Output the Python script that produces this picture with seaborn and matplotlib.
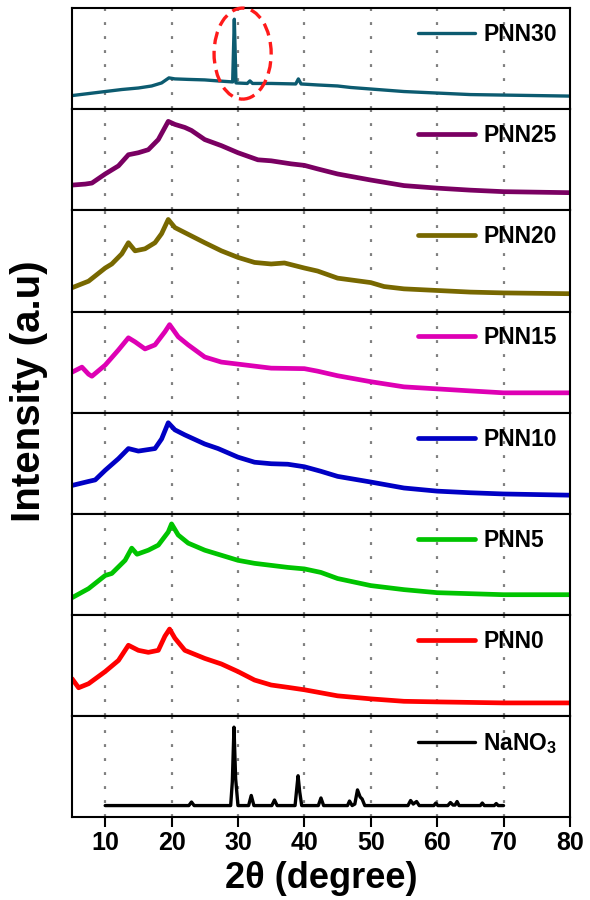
import matplotlib
matplotlib.use("Agg")
import matplotlib.pyplot as plt
import pandas as pd
import seaborn as sns
from matplotlib.patches import Ellipse

# ---- XRD patterns (2theta in degrees, intensity in arbitrary units) ----
labels = ["PNN30", "PNN25", "PNN20", "PNN15", "PNN10", "PNN5", "PNN0", "NaNO$_3$"]
colors = ["#0c5b70", "#7a0062", "#786800", "#de00b4", "#0000c4", "#00c400", "#ff0000", "#000000"]

pnn30_x = [5, 7.5, 10, 12.5, 15, 17, 18.5, 19.6, 20.5, 22.5, 25, 27, 29.2, 29.45, 29.7,
           31.4, 31.8, 32.2, 35, 38.7, 39.1, 39.5, 42, 45, 47, 50, 55, 60, 65, 70, 75, 80]
pnn30_y = [13.5, 15.5, 17.5, 19.5, 21, 23, 26, 31, 30, 29.5, 29, 28, 27, 89, 26,
           25.5, 28, 25.5, 25.5, 25, 30, 25, 24, 23, 21.5, 20, 17.5, 16, 14.5, 14, 13.5, 13]

pnn25_x = [5, 7, 8, 10, 12, 13.5, 15, 16.5, 18, 19, 19.5, 20.5, 22, 23, 25, 27.5, 30, 33,
           35, 38, 40, 42, 45, 50, 55, 60, 65, 70, 75, 80]
pnn25_y = [25, 26, 27, 36, 44, 55, 57, 60, 70, 82, 88, 85, 82, 79, 70, 64, 57, 50,
           49, 46, 44.5, 41, 36, 30, 24.5, 22, 20, 18.5, 18, 17.5]

pnn20_x = [5, 7.5, 10, 11, 12.5, 13.5, 14.5, 16, 17.5, 18.5, 19.5, 20.5, 22, 23.5, 25, 27.5,
           30, 32.5, 35, 37, 40, 42, 45, 50, 52, 55, 60, 65, 70, 80]
pnn20_y = [23.5, 30, 43, 47, 57, 68, 60, 62, 68, 77, 91, 83, 78, 73, 68, 60,
           53.5, 48.5, 47, 48, 43, 40, 33, 28.6, 24.7, 22.4, 20.8, 19.2, 18.4, 17.6]

pnn15_x = [5, 6.5, 7.5, 8, 10, 12, 13.5, 14.5, 16, 17.5, 19, 19.7, 21, 22.5, 25, 27.5, 30,
           32.5, 35, 38, 40, 42, 45, 50, 55, 60, 65, 70, 75, 80]
pnn15_y = [40, 45, 38, 36, 47, 62, 74, 70, 63, 67, 80, 87, 75, 67, 55, 50, 48,
           46, 44, 43.7, 43.5, 41, 36.5, 30.6, 25.5, 23.5, 21.5, 19.6, 19.6, 19.6]

pnn10_x = [5, 7.5, 8.5, 10, 12, 13.5, 15, 17.5, 18.5, 19.5, 20.5, 22, 25, 27, 30, 32.5, 35,
           37.5, 40, 42.5, 45, 50, 55, 60, 65, 70, 80]
pnn10_y = [28, 32, 33.5, 43, 54.5, 64.5, 62, 64.5, 74, 90, 83, 78, 69, 64.5, 56, 51, 49.5,
           49, 46.5, 42, 37, 31.4, 25.5, 22.4, 20.8, 19.6, 18.4]

pnn5_x = [5, 7.5, 10, 11, 13, 14, 14.8, 16.5, 18, 19.5, 20, 21, 22.5, 25, 28, 30, 32.5,
          35, 37.5, 40, 42.5, 45, 50, 55, 60, 65, 70, 80]
pnn5_y = [17, 26, 39, 41, 54, 66, 60, 64, 69, 82, 90, 79, 71, 64, 58, 54, 51,
          49, 47, 45.5, 42, 36, 29, 25, 22, 21, 20, 20]

pnn0_x = [5, 6, 7.5, 10, 12, 13.5, 15, 16.5, 18, 19, 19.7, 20.5, 22, 25, 27.5, 30, 32.5,
          35, 37.5, 40, 42.5, 45, 50, 55, 60, 70, 80]
pnn0_y = [37, 28, 32, 44, 55, 70, 65, 63, 65, 79, 86, 77, 65, 57, 51.5, 44, 35.6,
          30.7, 28.4, 26, 23, 20, 17, 14.6, 14, 13, 13]

nano3_x = [10, 22.6, 23.0, 23.4, 28.9, 29.15, 29.4, 29.65, 30.0, 31.6, 32.0, 32.4, 35.1, 35.5,
           35.9, 38.6, 38.85, 39.05, 39.3, 39.6, 42.1, 42.5, 42.9, 46.5, 46.8, 47.2, 47.6,
           48.0, 48.4, 48.7, 49.1, 55.6, 56.0, 56.4, 56.9, 57.3, 59.5, 59.8, 60.1, 61.6, 62.0,
           62.4, 62.7, 63.0, 63.3, 66.5, 66.8, 67.1, 68.6, 68.9, 69.2, 70]
nano3_y = [11.5, 11.5, 15, 11.5, 11.5, 35, 89, 38, 11.5, 11.5, 21.5, 11.5, 11.5, 17,
           11.5, 11.5, 28, 41, 25, 11.5, 11.5, 19, 11.5, 11.5, 16, 11.5, 13,
           27, 20, 18, 11.5, 11.5, 16.5, 13, 15.5, 11.5, 11.5, 14, 11.5, 11.5, 14.5,
           12, 12, 15.5, 11.5, 11.5, 14, 11.5, 11.5, 13.5, 11.5, 11.5]

xs_all = [pnn30_x, pnn25_x, pnn20_x, pnn15_x, pnn10_x, pnn5_x, pnn0_x, nano3_x]
ys_all = [pnn30_y, pnn25_y, pnn20_y, pnn15_y, pnn10_y, pnn5_y, pnn0_y, nano3_y]
widths = [2.4, 3.4, 3.4, 3.4, 3.4, 3.4, 3.4, 2.4]

x_ticks = [10, 20, 30, 40, 50, 60, 70, 80]
grid_positions = [10, 20, 30, 40, 50, 60, 70]

sns.set_theme(style="white")
plt.rcParams["font.family"] = ["Liberation Sans", "DejaVu Sans"]
plt.rcParams["font.weight"] = "bold"
plt.rcParams["text.color"] = "black"
plt.rcParams["axes.labelcolor"] = "black"
plt.rcParams["xtick.color"] = "black"
plt.rcParams["mathtext.fontset"] = "custom"
plt.rcParams["mathtext.rm"] = "Liberation Sans:bold"
plt.rcParams["mathtext.it"] = "Liberation Sans:bold"
plt.rcParams["mathtext.bf"] = "Liberation Sans:bold"

fig, axes = plt.subplots(len(labels), 1, figsize=(5.9, 9), dpi=100, sharex=True)
fig.subplots_adjust(left=0.122, right=0.966, top=0.991, bottom=0.092, hspace=0)

for ax, name, xs, ys, col, lw in zip(axes, labels, xs_all, ys_all, colors, widths):
    df = pd.DataFrame({"two_theta": xs, "intensity": ys})
    sns.lineplot(data=df, x="two_theta", y="intensity", ax=ax, color=col, lw=lw,
                 label=name, sort=False, estimator=None)
    for g in grid_positions:
        ax.axvline(g, color="#808080", lw=1.6, ls=(0, (1.3, 5.0)), zorder=0)
    ax.set_xlim(5, 80)
    ax.set_ylim(0, 100)
    ax.set_yticks([])
    ax.set_ylabel("")
    ax.set_xlabel("")
    for sp in ax.spines.values():
        sp.set_color("black")
        sp.set_linewidth(1.5)
    ax.tick_params(axis="x", length=0)
    leg = ax.legend(loc="upper left", bbox_to_anchor=(0.665, 1.0), frameon=False,
                    fontsize=16.5, handlelength=2.5, handletextpad=0.35, borderaxespad=0.25)
    for t in leg.get_texts():
        t.set_color("black")

# circled sharp reflection in the PNN30 pattern
axes[0].add_patch(Ellipse((30.7, 55), width=8.6, height=90, fill=False, edgecolor="#ff1a1a",
                          lw=2.4, ls=(0, (3.8, 2.0)), clip_on=False, zorder=5))

bottom = axes[-1]
bottom.set_xticks(x_ticks)
bottom.set_xticklabels([str(t) for t in x_ticks])
bottom.tick_params(axis="x", bottom=True, length=7, width=1.5, direction="out",
                   labelsize=18, labelcolor="black", color="black", pad=3)
bottom.set_xlabel("2θ (degree)", fontsize=26, fontweight="bold", labelpad=4, color="black")

fig.text(0.05, 0.565, "Intensity (a.u)", rotation=90, fontsize=29, fontweight="bold",
         ha="center", va="center", color="black")

fig.savefig("out.png", dpi=100)
